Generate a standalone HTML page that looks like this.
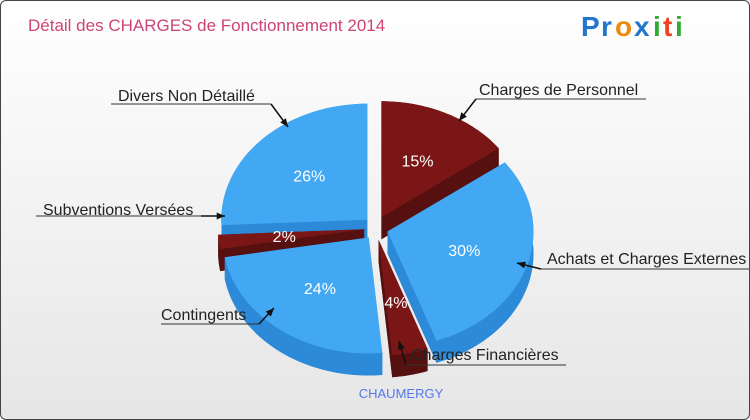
<!DOCTYPE html>
<html><head><meta charset="utf-8"><style>
html,body{margin:0;padding:0;}
body{width:750px;height:420px;overflow:hidden;font-family:"Liberation Sans",sans-serif;}
#wrap{position:absolute;left:0;top:0;width:748px;height:418px;border:1px solid #444;border-radius:6px;background:linear-gradient(#ffffff,#e6e6e6);overflow:hidden;}
</style></head><body>
<div id="wrap">
<svg id="svg" width="750" height="420">
<text x="27" y="30" font-size="17" fill="#cc4477">Détail des CHARGES de Fonctionnement 2014</text>
<g font-size="28" font-weight="bold">
<text x="580" y="35" fill="#2277cc">P</text><text x="600" y="35" fill="#2277cc">r</text><text x="614" y="35" fill="#ee8811">o</text><text x="633" y="35" fill="#2277cc">x</text><text x="652" y="35" fill="#33aa33">i</text><text x="662" y="35" fill="#ee4422">t</text><text x="674" y="35" fill="#33aa33">i</text>
</g>
<g id="pie"></g>
<g id="labels" font-size="16" fill="#222"></g>
<text x="400" y="397" font-size="13" fill="#5577ee" text-anchor="middle">CHAUMERGY</text>
</svg>
</div>
<script>
const categories=["Charges de Personnel","Achats et Charges Externes","Charges Financières","Contingents","Subventions Versées","Divers Non Détaillé"];
const values=[15,30,4,24,2,26];
const colorKinds=["red","blue","red","blue","red","blue"];
const NS="http://www.w3.org/2000/svg";
const cx=375,cy=227,rx=146,ry=116,depth=22,explode=12;
const cols={red:["#7a1616","#561010"],blue:["#42a8f4","#2c8ad8"]};
const total=values.reduce((a,b)=>a+b,0);
const pie=document.getElementById('pie');
function pt(a,ox,oy,dy){return [ox+rx*Math.sin(a),oy-ry*Math.cos(a)+(dy||0)];}
function mk(tag,attrs){const e=document.createElementNS(NS,tag);for(const k in attrs)e.setAttribute(k,attrs[k]);return e;}
let slices=[],acc=0;
values.forEach((v,i)=>{const a0=acc/total*2*Math.PI;acc+=v;const a1=acc/total*2*Math.PI;const m=(a0+a1)/2;
 slices.push({i,a0,a1,m,ox:cx+explode*Math.sin(m),oy:cy-explode*Math.cos(m)});});
const order=slices.slice().sort((a,b)=>(-Math.cos(a.m))-(-Math.cos(b.m)));
order.forEach(s=>{
 const [top,side]=cols[colorKinds[s.i]];
 const g=mk('g',{});
 
 
 const N=40,arcT=[],arcB=[];
 for(let k=0;k<=N;k++){const a=s.a0+(s.a1-s.a0)*k/N;arcT.push(pt(a,s.ox,s.oy,0));arcB.push(pt(a,s.ox,s.oy,depth));}
 const f=p=>p.map(q=>q[0].toFixed(1)+','+q[1].toFixed(1)).join(' ');
 const cT=[s.ox,s.oy],cB=[s.ox,s.oy+depth];
 g.appendChild(mk('polygon',{points:f([cB].concat(arcB)),fill:side}));
 g.appendChild(mk('polygon',{points:f([cT,arcT[0],arcB[0],cB]),fill:side}));
 g.appendChild(mk('polygon',{points:f([cT,arcT[N],arcB[N],cB]),fill:side}));
 g.appendChild(mk('polygon',{points:f(arcT.concat(arcB.slice().reverse())),fill:side}));
 g.appendChild(mk('polygon',{points:f([cT].concat(arcT)),fill:top}));
 const lp=pt(s.m,s.ox,s.oy,0);const tx=s.ox+(lp[0]-s.ox)*0.55,ty=s.oy+(lp[1]-s.oy)*0.55+6;
 const t=mk('text',{x:tx,y:ty,'font-size':16,fill:'#fff','text-anchor':'middle'});
 
 
 t.textContent=Math.round(values[s.i]/total*100)+'%';g.appendChild(t);
 pie.appendChild(g);
});
const lab=document.getElementById('labels');
const callouts=[[478,94,475,645,98,458,120],[546,263,540,750,268,516,262],[410,359,405,565,364,398,340],[160,319,160,258,323,273,307],[42,214,35,200,215,224,215],[117,100,110,270,103,287,126]];
callouts.forEach((c,i)=>{
 const t=mk('text',{x:c[0],y:c[1]});
 t.textContent=categories[i];lab.appendChild(t);
 const x0=c[2],x1=c[3],y=c[4];const near=Math.abs(x0-c[5])<Math.abs(x1-c[5])?x0:x1;
 const l=mk('polyline',{points:`${x0},${y} ${x1},${y}`,stroke:'#333',fill:'none','stroke-width':1});
 lab.appendChild(l);
 const l2=mk('line',{x1:near,y1:y,x2:c[5],y2:c[6],stroke:'#111','stroke-width':1.5});
 lab.appendChild(l2);
 const ang=Math.atan2(c[6]-y,c[5]-near);const hx=c[5],hy=c[6];
 const h=mk('polygon',{points:`${hx},${hy} ${hx-9*Math.cos(ang-0.4)},${hy-9*Math.sin(ang-0.4)} ${hx-9*Math.cos(ang+0.4)},${hy-9*Math.sin(ang+0.4)}`,fill:'#111'});
 lab.appendChild(h);
});
</script>
</body></html>
